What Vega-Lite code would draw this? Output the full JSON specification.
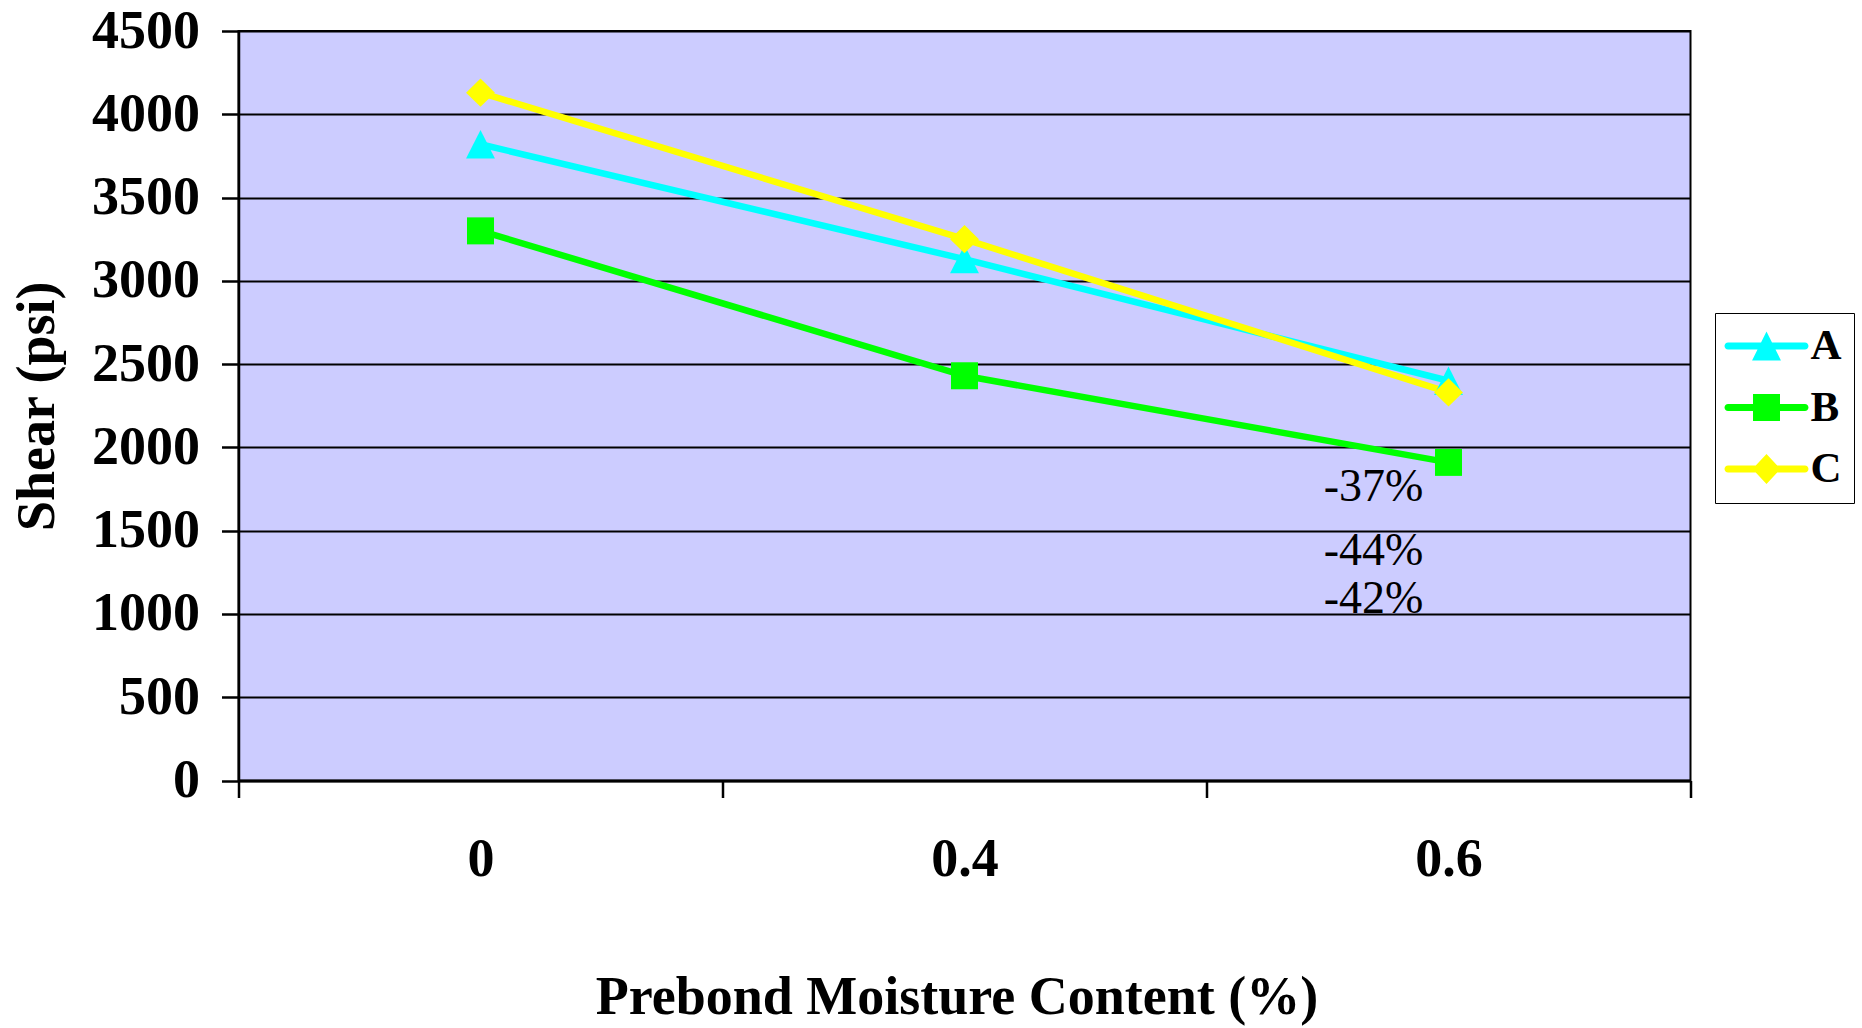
{
  "$schema": "https://vega.github.io/schema/vega-lite/v6.json",
  "width": 1452,
  "height": 749.5,
  "autosize": {"type": "none"},
  "padding": {"left": 238.5, "top": 31, "right": 171.5, "bottom": 247.5},
  "background": "white",
  "config": {
    "view": {"fill": "#CCCCFF", "stroke": "black", "strokeWidth": 2},
    "font": "Liberation Serif",
    "axis": {
      "labelFont": "Liberation Serif",
      "titleFont": "Liberation Serif",
      "labelFontSize": 54,
      "titleFontSize": 54,
      "labelFontWeight": "bold",
      "titleFontWeight": "bold",
      "labelColor": "black",
      "titleColor": "black",
      "domainColor": "black",
      "domainWidth": 2.5,
      "tickColor": "black",
      "tickWidth": 2.5,
      "tickSize": 17,
      "gridColor": "black",
      "gridWidth": 2,
      "gridOpacity": 1
    }
  },
  "datasets": {
    "shear": [
      {"moisture": "0", "series": "A", "shear": 3820},
      {"moisture": "0.4", "series": "A", "shear": 3130},
      {"moisture": "0.6", "series": "A", "shear": 2400},
      {"moisture": "0", "series": "B", "shear": 3300},
      {"moisture": "0.4", "series": "B", "shear": 2430},
      {"moisture": "0.6", "series": "B", "shear": 1910},
      {"moisture": "0", "series": "C", "shear": 4130},
      {"moisture": "0.4", "series": "C", "shear": 3250},
      {"moisture": "0.6", "series": "C", "shear": 2330}
    ],
    "changes": [
      {"moisture": "0.6", "series": "A", "change": "-37%", "shear": 1760},
      {"moisture": "0.6", "series": "C", "change": "-44%", "shear": 1380},
      {"moisture": "0.6", "series": "B", "change": "-42%", "shear": 1090}
    ]
  },
  "encoding": {
    "x": {
      "field": "moisture",
      "type": "nominal",
      "sort": ["0", "0.4", "0.6"],
      "scale": {"type": "band", "paddingInner": 0, "paddingOuter": 0},
      "axis": {
        "tickBand": "extent",
        "grid": false,
        "labelAngle": 0,
        "labelPadding": 35,
        "title": "Prebond Moisture Content (%)",
        "titlePadding": 84,
        "titleX": 718
      }
    },
    "y": {
      "field": "shear",
      "type": "quantitative",
      "scale": {"domain": [0, 4500], "nice": false},
      "axis": {
        "values": [0, 500, 1000, 1500, 2000, 2500, 3000, 3500, 4000, 4500],
        "format": "d",
        "labelPadding": 22,
        "title": "Shear (psi)",
        "titlePadding": 27
      }
    }
  },
  "layer": [
    {
      "data": {"name": "shear"},
      "transform": [{"filter": "datum.series === 'A'"}],
      "mark": {"type": "line", "strokeWidth": 6.5, "color": "#00FFFF"},
      "encoding": {}
    },
    {
      "data": {"name": "shear"},
      "transform": [{"filter": "datum.series === 'B'"}],
      "mark": {"type": "line", "strokeWidth": 6.5, "color": "#00FF00"},
      "encoding": {}
    },
    {
      "data": {"name": "shear"},
      "transform": [{"filter": "datum.series === 'C'"}],
      "mark": {"type": "line", "strokeWidth": 6.5, "color": "#FFFF00"},
      "encoding": {}
    },
    {
      "data": {"name": "shear"},
      "transform": [{"filter": "datum.series === 'A'"}],
      "mark": {"type": "point", "filled": true, "opacity": 1, "strokeWidth": 0, "color": "#00FFFF", "size": 729, "shape": "M0,-1.05L1.07,1.05L-1.07,1.05Z"},
      "encoding": {}
    },
    {
      "data": {"name": "shear"},
      "transform": [{"filter": "datum.series === 'B'"}],
      "mark": {"type": "point", "filled": true, "opacity": 1, "strokeWidth": 0, "color": "#00FF00", "size": 729, "shape": "square"},
      "encoding": {}
    },
    {
      "data": {"name": "shear"},
      "transform": [{"filter": "datum.series === 'C'"}],
      "mark": {"type": "point", "filled": true, "opacity": 1, "strokeWidth": 0, "color": "#FFFF00", "size": 729, "shape": "M0,-1.05L1.07,0L0,1.05L-1.07,0Z"},
      "encoding": {}
    },
    {
      "data": {"name": "changes"},
      "mark": {"type": "text", "font": "Liberation Serif", "fontSize": 46, "fontWeight": "normal", "color": "black", "align": "center", "baseline": "middle", "dx": -75},
      "encoding": {"text": {"field": "change"}}
    },
    {
      "data": {"name": "shear"},
      "transform": [{"filter": "false"}],
      "mark": {"type": "point", "filled": true, "opacity": 1, "strokeWidth": 0, "size": 729},
      "encoding": {
        "color": {
          "field": "series",
          "type": "nominal",
          "scale": {"domain": ["A", "B", "C"], "range": ["#00FFFF", "#00FF00", "#FFFF00"]},
          "legend": {
            "orient": "none", "legendX": 1476.5, "legendY": 282, "title": null,
            "padding": 11.5, "strokeColor": "black", "fillColor": "white",
            "labelFont": "Liberation Serif", "labelFontSize": 43, "labelFontWeight": "bold", "labelColor": "black",
            "symbolSize": 729, "symbolStrokeWidth": 0, "symbolOffset": 18.5, "labelOffset": 22.5, "rowPadding": 17.5
          }
        },
        "shape": {
          "field": "series",
          "type": "nominal",
          "scale": {
            "domain": ["A", "B", "C"],
            "range": [
              "M-2.85,-0.26L2.85,-0.26A0.26,0.26 0 0 1 2.85,0.26L-2.85,0.26A0.26,0.26 0 0 1 -2.85,-0.26ZM0,-1.07L1.07,1.07L-1.07,1.07Z",
              "M-2.85,-0.26L2.85,-0.26A0.26,0.26 0 0 1 2.85,0.26L-2.85,0.26A0.26,0.26 0 0 1 -2.85,-0.26ZM-1,-1L1,-1L1,1L-1,1Z",
              "M-2.85,-0.26L2.85,-0.26A0.26,0.26 0 0 1 2.85,0.26L-2.85,0.26A0.26,0.26 0 0 1 -2.85,-0.26ZM0,-1.11L1.04,0L0,1.11L-1.04,0Z"
            ]
          },
          "legend": {
            "orient": "none", "legendX": 1476.5, "legendY": 282, "title": null,
            "padding": 11.5, "strokeColor": "black", "fillColor": "white",
            "labelFont": "Liberation Serif", "labelFontSize": 43, "labelFontWeight": "bold", "labelColor": "black",
            "symbolSize": 729, "symbolStrokeWidth": 0, "symbolOffset": 18.5, "labelOffset": 22.5, "rowPadding": 17.5
          }
        }
      }
    }
  ]
}
